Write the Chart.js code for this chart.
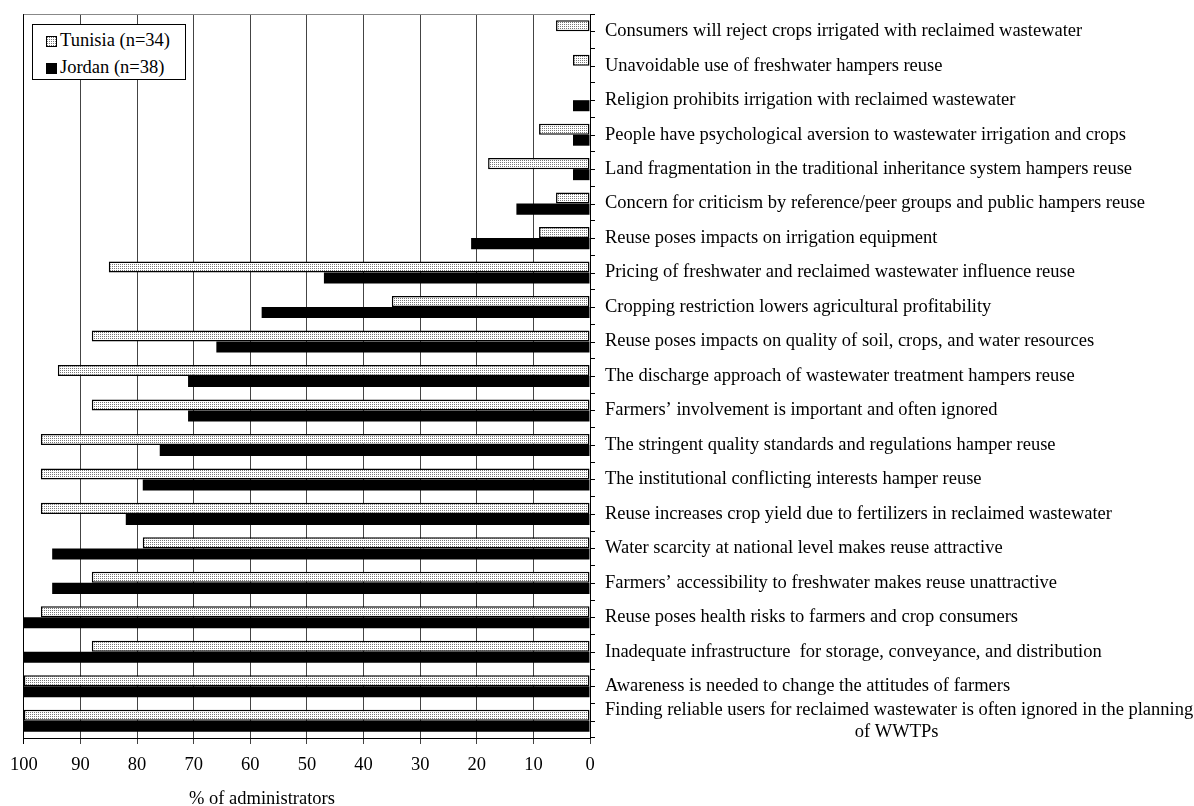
<!DOCTYPE html>
<html>
<head>
<meta charset="utf-8">
<script src="https://cdn.jsdelivr.net/npm/chart.js@4/dist/chart.umd.min.js"></script>
<style>
  body { margin: 0; background: #fff; }
  #wrap { position: relative; width: 1194px; height: 806px; }
  #legend {
    position: absolute; left: 32px; top: 24px; width: 152px; height: 54px;
    border: 1px solid #000; background: #fff;
    font-family: "Liberation Serif", "Times New Roman", serif; font-size: 18.5px; color: #000;
  }
  #legend .item { position: absolute; left: 13px; height: 22px; line-height: 22px; white-space: nowrap; }
  #legend .sw { display: inline-block; width: 11px; height: 11px; margin-right: 3px; vertical-align: -1px; box-sizing: border-box; }
</style>
</head>
<body>
<div id="wrap">
  <canvas id="chart" width="1194" height="806"></canvas>
  <div id="legend">
    <div class="item" style="top:4px"><span class="sw" id="swTun" style="border:1px solid #000"></span>Tunisia (n=34)</div>
    <div class="item" style="top:31px"><span class="sw" style="background:#000"></span>Jordan (n=38)</div>
  </div>
</div>
<script>
const categories = [
    "Consumers will reject crops irrigated with reclaimed wastewater",
    "Unavoidable use of freshwater hampers reuse",
    "Religion prohibits irrigation with reclaimed wastewater",
    "People have psychological aversion to wastewater irrigation and crops",
    "Land fragmentation in the traditional inheritance system hampers reuse",
    "Concern for criticism by reference/peer groups and public hampers reuse",
    "Reuse poses impacts on irrigation equipment",
    "Pricing of freshwater and reclaimed wastewater influence reuse",
    "Cropping restriction lowers agricultural profitability",
    "Reuse poses impacts on quality of soil, crops, and water resources",
    "The discharge approach of wastewater treatment hampers reuse",
    "Farmers\u2019 involvement is important and often ignored",
    "The stringent quality standards and regulations hamper reuse",
    "The institutional conflicting interests hamper reuse",
    "Reuse increases crop yield due to fertilizers in reclaimed wastewater",
    "Water scarcity at national level makes reuse attractive",
    "Farmers\u2019 accessibility to freshwater makes reuse unattractive",
    "Reuse poses health risks to farmers and crop consumers",
    "Inadequate infrastructure  for storage, conveyance, and distribution",
    "Awareness is needed to change the attitudes of farmers",
    ["Finding reliable users for reclaimed wastewater is often ignored in the planning", "of WWTPs"]
];
const tunisia = [6, 3, 0, 9, 18, 6, 9, 85, 35, 88, 94, 88, 97, 97, 97, 79, 88, 97, 88, 100, 100];
const jordan = [0, 0, 3, 3, 3, 13, 21, 47, 58, 66, 71, 71, 76, 79, 82, 95, 95, 100, 100, 100, 100];
const xTicks = [100, 90, 80, 70, 60, 50, 40, 30, 20, 10, 0];
const xTitle = "% of administrators";

const FONT = '"Liberation Serif", "Times New Roman", serif';
const FSIZE = 18.5;

// stippled fill for Tunisia
const tile = document.createElement("canvas");
tile.width = 2;
tile.height = 2;
const tctx = tile.getContext("2d");
tctx.fillStyle = "#fff";
tctx.fillRect(0, 0, 2, 2);
tctx.fillStyle = "#777";
tctx.fillRect(0, 0, 1, 1);
const ctx = document.getElementById("chart").getContext("2d");
const stipple = ctx.createPattern(tile, "repeat");
document.getElementById("swTun").style.backgroundImage = `url(${tile.toDataURL()})`;

// centre the second line of the two-line label under the first
ctx.font = `${FSIZE}px ${FONT}`;
const twoLine = categories[categories.length - 1];
const spaceW = ctx.measureText("\u2002").width;
const nPad = Math.round((ctx.measureText(twoLine[0]).width - ctx.measureText(twoLine[1]).width) / 2 / spaceW);
const labels = categories.map(c => Array.isArray(c) ? [c[0], "\u2002".repeat(nPad) + c[1]] : c);

const extras = {
    id: "extras",
    afterDraw(chart) {
        const c = chart.ctx;
        const area = chart.chartArea;
        const y = chart.scales.y;
        c.save();
        c.strokeStyle = "#888";
        c.lineWidth = 1;
        c.beginPath();
        c.moveTo(area.left, area.top + 0.5);
        c.lineTo(area.right, area.top + 0.5);
        c.stroke();
        c.strokeStyle = "#000";
        c.beginPath();
        labels.forEach((l, i) => {
            const py = Math.round(y.getPixelForValue(i)) + 0.5;
            c.moveTo(area.right, py);
            c.lineTo(area.right + 5, py);
        });
        c.stroke();
        c.fillStyle = "#000";
        c.font = `${FSIZE}px ${FONT}`;
        c.textAlign = "center";
        c.textBaseline = "middle";
        c.fillText(xTitle, 262, 799);
        c.restore();
    }
};

new Chart(ctx, {
    type: "bar",
    data: {
        labels,
        datasets: [
            { label: "Tunisia (n=34)", data: tunisia, backgroundColor: stipple, borderColor: "#000", borderWidth: 1.5, borderSkipped: false },
            { label: "Jordan (n=38)", data: jordan, backgroundColor: "#000", borderWidth: 0 }
        ]
    },
    options: {
        indexAxis: "y",
        responsive: false,
        animation: false,
        categoryPercentage: 0.64,
        barPercentage: 1,
        layout: { padding: { left: 23, top: 14, right: 0, bottom: 0 } },
        plugins: { legend: { display: false }, tooltip: { enabled: false } },
        scales: {
            x: {
                reverse: true,
                min: 0,
                max: 100,
                afterBuildTicks: scale => { scale.ticks = xTicks.map(v => ({ value: v })); },
                afterFit: scale => { scale.height = 806 - 738; },
                ticks: { color: "#000", font: { family: FONT, size: FSIZE }, padding: 10, maxRotation: 0 },
                grid: {
                    color: ctx => ctx.tick && ctx.tick.value === 100 ? "#000" : "#444",
                    lineWidth: 1,
                    tickLength: 6
                },
                border: { color: "#000", width: 1 }
            },
            y: {
                position: "right",
                afterFit: scale => {
                    scale.width = 1194 - 590;
                    scale.paddingTop = 0;
                    scale.paddingBottom = 0;
                },
                ticks: {
                    color: "#000",
                    font: { family: FONT, size: FSIZE },
                    crossAlign: "near",
                    padding: 10,
                    autoSkip: false
                },
                grid: { drawOnChartArea: false, offset: true, tickLength: 5, color: "#000" },
                border: { color: "#000", width: 1 }
            }
        }
    },
    plugins: [extras]
});
</script>
</body>
</html>
